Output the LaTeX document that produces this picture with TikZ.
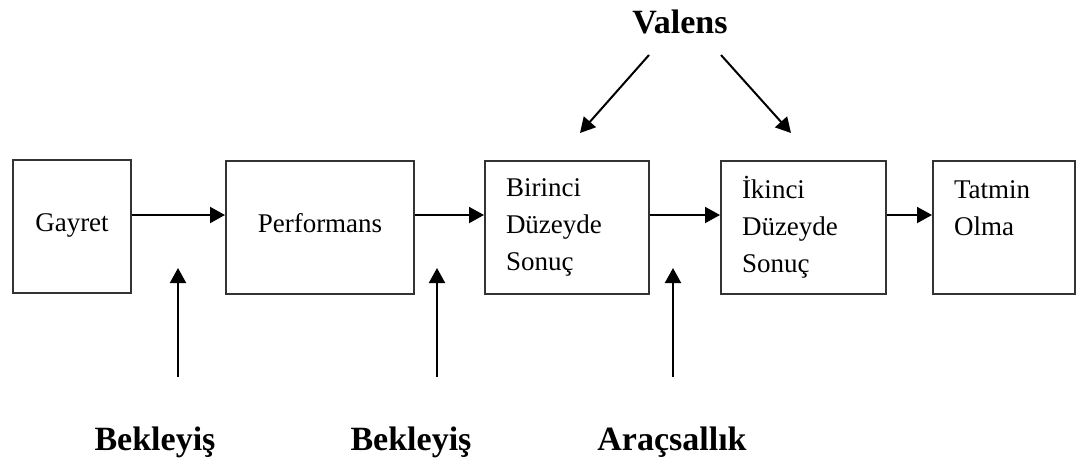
\documentclass[tikz,border=0pt]{standalone}
\usepackage{fontspec}
\setmainfont{Liberation Serif}
\usepackage{tikz}
\usetikzlibrary{calc}
\usetikzlibrary{arrows.meta}

\tikzset{
  kutu/.style={draw=black!80, line width=1pt, minimum height=66.5pt, inner sep=0pt,
    font=\fontsize{13.5}{18.5}\selectfont},
  tekkutu/.style={kutu, text height=9pt, text depth=4pt},
  yazikutu/.style={kutu, align=left, inner xsep=10.5pt},
  ok/.style={-{Triangle[length=7.5pt,width=8pt]}, line width=1pt},
  etiket/.style={font=\fontsize{17}{20}\selectfont\bfseries, inner sep=0pt},
}

\begin{document}
\begin{tikzpicture}[x=0.5pt,y=-0.5pt]
\useasboundingbox (0,0) rectangle (1077,462);

% kutular
\node[tekkutu, minimum width=59pt] (gayret) at (72,226.5) {Gayret};
\node[tekkutu, minimum width=94pt] (perf) at (320,227) {Performans};
\node[yazikutu, text width=61pt] (birinci) at (567,227) {Birinci\\Düzeyde\\Sonuç};
\node[yazikutu, text width=61.5pt] (ikinci) at (803.5,227) {İkinci\\Düzeyde\\Sonuç};
\node[yazikutu, text width=50pt] (tatmin) at (1004,227) {Tatmin\\Olma\\\phantom{S}};

\coordinate (row) at (0,215);
\draw[ok] (gayret.east |- row) -- (perf.west |- row);
\draw[ok] (perf.east |- row) -- (birinci.west |- row);
\draw[ok] (birinci.east |- row) -- (ikinci.west |- row);
\draw[ok] (ikinci.east |- row) -- (tatmin.west |- row);

% valens
\node[etiket, anchor=base] (valens) at (680,33) {Valens};
\coordinate (biruc) at (580,133);
\coordinate (ikiuc) at (791,133);
\draw[ok] ($(valens.base)+(-31,22)$) -- (biruc);
\draw[ok] ($(valens.base)+(41,22)$) -- (ikiuc);

% alt etiketler
\node[etiket, anchor=base] (bek1) at (155,450) {Bekleyiş};
\node[etiket, anchor=base] (bek2) at (411,450) {Bekleyiş};
\node[etiket, anchor=base] (arac) at (672,450) {Araçsallık};

\coordinate (ust) at (0,268);
\coordinate (b1) at (178,377);
\coordinate (b2) at (437,377);
\coordinate (b3) at (673,377);
\draw[ok] (b1) -- (b1 |- ust);
\draw[ok] (b2) -- (b2 |- ust);
\draw[ok] (b3) -- (b3 |- ust);
\end{tikzpicture}
\end{document}
